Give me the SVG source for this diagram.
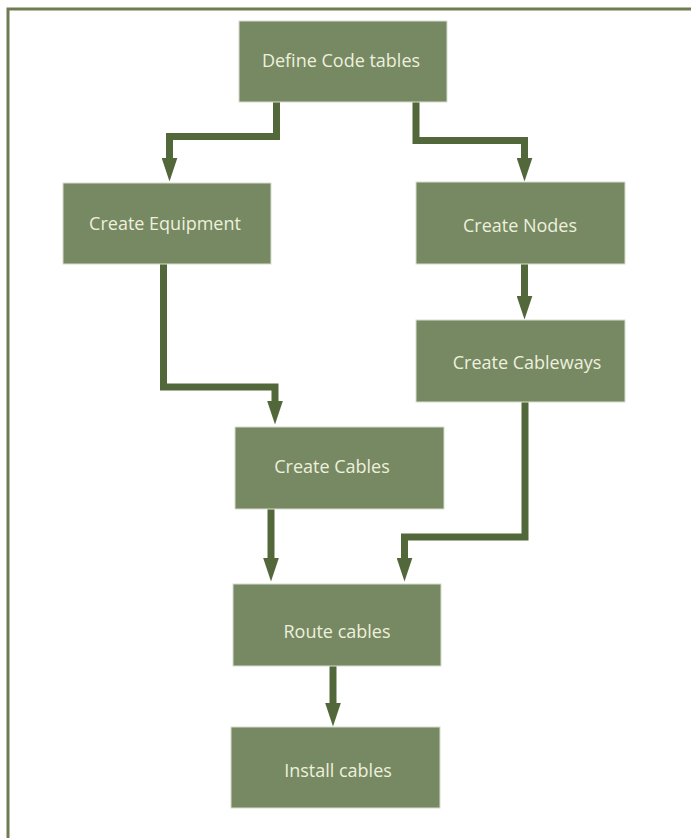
<svg xmlns="http://www.w3.org/2000/svg" width="691" height="838" viewBox="0 0 691 838">
<style>
.frame{fill:none;stroke:#6f7c52;stroke-width:3}
.box{fill:#768962;stroke:#d7ddcd;stroke-width:1}
.lbl{font-family:"Open Sans","Liberation Sans",sans-serif;font-size:18px;fill:#eef0dd;text-anchor:middle}
.con{fill:none;stroke:#52683a;stroke-width:7;stroke-linejoin:miter}
</style>
<defs>
<marker id="ah" markerUnits="userSpaceOnUse" viewBox="0 0 24 16" markerWidth="24" markerHeight="16" refX="0.5" refY="8" orient="auto">
<path d="M0,0 L24,8 L0,16 z" fill="#52683a"/>
</marker>
</defs>
<rect width="691" height="838" fill="#ffffff"/>
<path class="frame" d="M8,838 V9 H691"/>
<g id="connectors">
<path class="con" d="M276.5,102 V136.5 H169.5 V158" marker-end="url(#ah)"/>
<path class="con" d="M416,102 V140.5 H524.5 V158" marker-end="url(#ah)"/>
<path class="con" d="M163.5,264 V387 H275 V401" marker-end="url(#ah)"/>
<path class="con" d="M524.5,264 V296" marker-end="url(#ah)"/>
<path class="con" d="M525,402 V537 H404.5 V558" marker-end="url(#ah)"/>
<path class="con" d="M271,509 V558" marker-end="url(#ah)"/>
<path class="con" d="M333,666 V703" marker-end="url(#ah)"/>
</g>
<g id="define-code-tables">
<rect class="box" x="239" y="21" width="208" height="81"/>
<text class="lbl" x="341" y="67">Define Code tables</text>
</g>
<g id="create-equipment">
<rect class="box" x="63" y="183" width="208" height="81"/>
<text class="lbl" x="165" y="230">Create Equipment</text>
</g>
<g id="create-nodes">
<rect class="box" x="416" y="182" width="209" height="82"/>
<text class="lbl" x="520" y="232">Create Nodes</text>
</g>
<g id="create-cableways">
<rect class="box" x="416" y="320" width="209" height="82"/>
<text class="lbl" x="527" y="369">Create Cableways</text>
</g>
<g id="create-cables">
<rect class="box" x="235" y="427" width="209" height="82"/>
<text class="lbl" x="332" y="473">Create Cables</text>
</g>
<g id="route-cables">
<rect class="box" x="233" y="584" width="208" height="82"/>
<text class="lbl" x="337" y="638">Route cables</text>
</g>
<g id="install-cables">
<rect class="box" x="231" y="727" width="209" height="81"/>
<text class="lbl" x="338" y="777">Install cables</text>
</g>
</svg>
